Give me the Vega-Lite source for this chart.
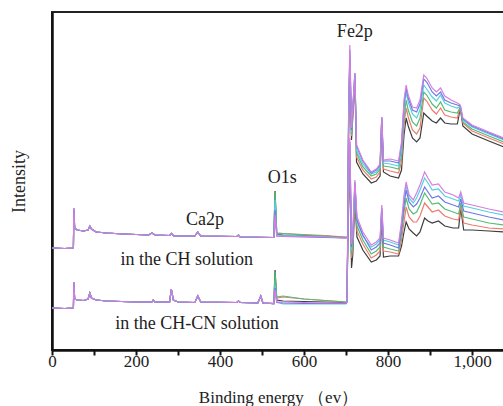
{
  "$schema": "https://vega.github.io/schema/vega-lite/v6.json",
  "width": 452,
  "height": 338,
  "autosize": "none",
  "padding": {"left": 52, "top": 12, "right": 0, "bottom": 56},
  "background": "white",
  "config": {"view": {"stroke": "#222", "strokeWidth": 2}, "font": "Liberation Serif, Times New Roman, serif"},
  "layer": [
    {
      "data": {"values": [
        {"g":"CH","x":0,"k":102,"r":102,"gr":102,"c":102,"b":102,"m":102},
        {"g":"CH","x":30,"k":101.5,"r":101.5,"gr":101.5,"c":101.5,"b":101.5,"m":101.5},
        {"g":"CH","x":50,"k":102,"r":102,"gr":102,"c":102,"b":102,"m":102},
        {"g":"CH","x":51,"k":103,"r":103,"gr":103,"c":103,"b":103,"m":103},
        {"g":"CH","x":52,"k":138,"r":140,"gr":140,"c":141,"b":142,"m":142},
        {"g":"CH","x":54,"k":122,"r":122,"gr":122,"c":122,"b":122,"m":122},
        {"g":"CH","x":60,"k":120,"r":120,"gr":120,"c":120,"b":120,"m":120},
        {"g":"CH","x":75,"k":119,"r":119,"gr":119,"c":119,"b":119,"m":119},
        {"g":"CH","x":86,"k":120,"r":120,"gr":120,"c":120,"b":120,"m":120},
        {"g":"CH","x":90,"k":124,"r":124,"gr":124,"c":124,"b":124,"m":124},
        {"g":"CH","x":94,"k":121,"r":121,"gr":121,"c":121,"b":121,"m":121},
        {"g":"CH","x":105,"k":118,"r":118,"gr":118,"c":118,"b":118,"m":118},
        {"g":"CH","x":130,"k":117,"r":117,"gr":117,"c":117,"b":117,"m":117},
        {"g":"CH","x":170,"k":116,"r":116,"gr":116,"c":116,"b":116,"m":116},
        {"g":"CH","x":230,"k":115,"r":115,"gr":115,"c":115,"b":115,"m":115},
        {"g":"CH","x":238,"k":117,"r":117,"gr":117,"c":117,"b":117,"m":117},
        {"g":"CH","x":245,"k":115,"r":115,"gr":115,"c":115,"b":115,"m":115},
        {"g":"CH","x":280,"k":114.5,"r":114.5,"gr":114.5,"c":114.5,"b":114.5,"m":114.5},
        {"g":"CH","x":284,"k":116.5,"r":116.5,"gr":116.5,"c":116.5,"b":116.5,"m":116.5},
        {"g":"CH","x":290,"k":114,"r":114,"gr":114,"c":114,"b":114,"m":114},
        {"g":"CH","x":340,"k":114,"r":114,"gr":114,"c":114,"b":114,"m":114},
        {"g":"CH","x":347,"k":118,"r":118,"gr":118,"c":118,"b":118,"m":118},
        {"g":"CH","x":354,"k":114,"r":114,"gr":114,"c":114,"b":114,"m":114},
        {"g":"CH","x":440,"k":113.5,"r":113.5,"gr":113.5,"c":113.5,"b":113.5,"m":113.5},
        {"g":"CH","x":444,"k":115,"r":115,"gr":115,"c":115,"b":115,"m":115},
        {"g":"CH","x":448,"k":113,"r":113,"gr":113,"c":113,"b":113,"m":113},
        {"g":"CH","x":528,"k":112.5,"r":112.5,"gr":112.5,"c":112.5,"b":112.5,"m":112.5},
        {"g":"CH","x":531,"k":159,"r":145,"gr":158,"c":150,"b":140,"m":135},
        {"g":"CH","x":535,"k":116,"r":117,"gr":117,"c":115,"b":114,"m":114},
        {"g":"CH","x":550,"k":115,"r":116.5,"gr":116.5,"c":115,"b":113.5,"m":114},
        {"g":"CH","x":600,"k":114.5,"r":115.5,"gr":115,"c":114,"b":113,"m":113.5},
        {"g":"CH","x":650,"k":114,"r":114.5,"gr":114,"c":113,"b":112.5,"m":113},
        {"g":"CH","x":700,"k":112.5,"r":113,"gr":112.5,"c":112,"b":112,"m":112},
        {"g":"CH","x":704,"k":113,"r":113,"gr":113,"c":113,"b":113,"m":113},
        {"g":"CH","x":706,"k":215,"r":222,"gr":225,"c":228,"b":230,"m":232},
        {"g":"CH","x":709,"k":285,"r":290,"gr":292,"c":295,"b":300,"m":305},
        {"g":"CH","x":713,"k":210,"r":214,"gr":216,"c":218,"b":220,"m":222},
        {"g":"CH","x":721,"k":270,"r":273,"gr":275,"c":276,"b":277,"m":277},
        {"g":"CH","x":725,"k":188,"r":193,"gr":197,"c":200,"b":204,"m":205},
        {"g":"CH","x":740,"k":176,"r":180,"gr":183,"c":186,"b":189,"m":190},
        {"g":"CH","x":760,"k":167,"r":171,"gr":174,"c":176,"b":177,"m":178},
        {"g":"CH","x":772,"k":169,"r":173,"gr":176,"c":178,"b":180,"m":181},
        {"g":"CH","x":781,"k":174,"r":178,"gr":181,"c":183,"b":185,"m":186},
        {"g":"CH","x":785,"k":228,"r":230,"gr":231,"c":232,"b":233,"m":233},
        {"g":"CH","x":789,"k":178,"r":181,"gr":184,"c":187,"b":189,"m":190},
        {"g":"CH","x":805,"k":174,"r":179,"gr":183,"c":186,"b":189,"m":191},
        {"g":"CH","x":825,"k":172,"r":177,"gr":181,"c":184,"b":187,"m":189},
        {"g":"CH","x":832,"k":180,"r":188,"gr":195,"c":200,"b":205,"m":208},
        {"g":"CH","x":838,"k":215,"r":225,"gr":232,"c":240,"b":246,"m":250},
        {"g":"CH","x":843,"k":232,"r":242,"gr":250,"c":258,"b":262,"m":265},
        {"g":"CH","x":848,"k":224,"r":233,"gr":240,"c":248,"b":252,"m":255},
        {"g":"CH","x":858,"k":212,"r":220,"gr":228,"c":236,"b":240,"m":243},
        {"g":"CH","x":868,"k":208,"r":216,"gr":224,"c":232,"b":238,"m":242},
        {"g":"CH","x":876,"k":212,"r":222,"gr":232,"c":240,"b":246,"m":250},
        {"g":"CH","x":885,"k":237,"r":252,"gr":258,"c":265,"b":271,"m":275},
        {"g":"CH","x":892,"k":234,"r":249,"gr":255,"c":261,"b":268,"m":272},
        {"g":"CH","x":905,"k":229,"r":240,"gr":246,"c":253,"b":258,"m":262},
        {"g":"CH","x":915,"k":227,"r":236,"gr":242,"c":249,"b":254,"m":258},
        {"g":"CH","x":925,"k":232,"r":242,"gr":248,"c":255,"b":258,"m":262},
        {"g":"CH","x":935,"k":227,"r":235,"gr":240,"c":247,"b":250,"m":254},
        {"g":"CH","x":950,"k":226,"r":233,"gr":238,"c":244,"b":247,"m":250},
        {"g":"CH","x":965,"k":226,"r":232,"gr":237,"c":242,"b":245,"m":247},
        {"g":"CH","x":972,"k":242,"r":243,"gr":243,"c":244,"b":244,"m":245},
        {"g":"CH","x":978,"k":224,"r":227,"gr":228,"c":230,"b":231,"m":232},
        {"g":"CH","x":1000,"k":216,"r":219,"gr":221,"c":223,"b":224,"m":225},
        {"g":"CH","x":1040,"k":209,"r":212,"gr":214,"c":216,"b":217,"m":218},
        {"g":"CH","x":1076,"k":203,"r":206,"gr":208,"c":210,"b":211,"m":212},

        {"g":"CN","x":0,"k":42,"r":42,"gr":42,"c":42,"b":42,"m":42},
        {"g":"CN","x":30,"k":41.5,"r":41.5,"gr":41.5,"c":41.5,"b":41.5,"m":41.5},
        {"g":"CN","x":50,"k":42,"r":42,"gr":42,"c":42,"b":42,"m":42},
        {"g":"CN","x":51,"k":43,"r":43,"gr":43,"c":43,"b":43,"m":43},
        {"g":"CN","x":52,"k":66,"r":67,"gr":67,"c":68,"b":68,"m":68},
        {"g":"CN","x":54,"k":51,"r":51,"gr":51,"c":51,"b":51,"m":51},
        {"g":"CN","x":60,"k":50,"r":50,"gr":50,"c":50,"b":50,"m":50},
        {"g":"CN","x":75,"k":49.5,"r":49.5,"gr":49.5,"c":49.5,"b":49.5,"m":49.5},
        {"g":"CN","x":86,"k":51,"r":51,"gr":51,"c":51,"b":51,"m":51},
        {"g":"CN","x":90,"k":57,"r":57,"gr":57,"c":57,"b":57,"m":57},
        {"g":"CN","x":94,"k":52,"r":52,"gr":52,"c":52,"b":52,"m":52},
        {"g":"CN","x":105,"k":50,"r":50,"gr":50,"c":50,"b":50,"m":50},
        {"g":"CN","x":130,"k":49,"r":49,"gr":49,"c":49,"b":49,"m":49},
        {"g":"CN","x":200,"k":48,"r":48,"gr":48,"c":48,"b":48,"m":48},
        {"g":"CN","x":238,"k":48,"r":48,"gr":48,"c":48,"b":48,"m":48},
        {"g":"CN","x":241,"k":50,"r":50,"gr":50,"c":50,"b":50,"m":50},
        {"g":"CN","x":245,"k":48,"r":48,"gr":48,"c":48,"b":48,"m":48},
        {"g":"CN","x":280,"k":48,"r":48,"gr":48,"c":48,"b":48,"m":48},
        {"g":"CN","x":284,"k":61,"r":61,"gr":61,"c":61,"b":61,"m":61},
        {"g":"CN","x":289,"k":50,"r":50,"gr":50,"c":50,"b":50,"m":50},
        {"g":"CN","x":300,"k":48,"r":48,"gr":48,"c":48,"b":48,"m":48},
        {"g":"CN","x":340,"k":47.5,"r":47.5,"gr":47.5,"c":47.5,"b":47.5,"m":47.5},
        {"g":"CN","x":347,"k":54,"r":54,"gr":54,"c":54,"b":54,"m":54},
        {"g":"CN","x":354,"k":48,"r":48,"gr":48,"c":48,"b":48,"m":48},
        {"g":"CN","x":440,"k":47.5,"r":47.5,"gr":47.5,"c":47.5,"b":47.5,"m":47.5},
        {"g":"CN","x":444,"k":49,"r":49,"gr":49,"c":49,"b":49,"m":49},
        {"g":"CN","x":448,"k":47.5,"r":47.5,"gr":47.5,"c":47.5,"b":47.5,"m":47.5},
        {"g":"CN","x":490,"k":47,"r":47,"gr":47,"c":47,"b":47,"m":47},
        {"g":"CN","x":497,"k":54,"r":54,"gr":54,"c":54,"b":54,"m":54},
        {"g":"CN","x":502,"k":47,"r":47,"gr":47,"c":47,"b":47,"m":47},
        {"g":"CN","x":528,"k":46.5,"r":46.5,"gr":46.5,"c":46.5,"b":46.5,"m":46.5},
        {"g":"CN","x":531,"k":80,"r":70,"gr":78,"c":65,"b":62,"m":60},
        {"g":"CN","x":535,"k":50,"r":52,"gr":53,"c":48,"b":47.5,"m":48},
        {"g":"CN","x":550,"k":49,"r":53,"gr":54,"c":46,"b":47,"m":48},
        {"g":"CN","x":600,"k":48.5,"r":51,"gr":51,"c":46,"b":46.5,"m":47.5},
        {"g":"CN","x":650,"k":48,"r":49.5,"gr":49.5,"c":46,"b":46.5,"m":47},
        {"g":"CN","x":700,"k":47.5,"r":48,"gr":48,"c":46,"b":46.5,"m":47},
        {"g":"CN","x":702,"k":48,"r":48,"gr":48,"c":48,"b":48,"m":48},
        {"g":"CN","x":704,"k":100,"r":104,"gr":106,"c":108,"b":110,"m":112},
        {"g":"CN","x":707,"k":160,"r":170,"gr":175,"c":180,"b":185,"m":190},
        {"g":"CN","x":709,"k":190,"r":195,"gr":200,"c":205,"b":208,"m":212},
        {"g":"CN","x":713,"k":82,"r":92,"gr":96,"c":100,"b":103,"m":106},
        {"g":"CN","x":716,"k":95,"r":102,"gr":106,"c":110,"b":113,"m":116},
        {"g":"CN","x":721,"k":150,"r":158,"gr":163,"c":166,"b":168,"m":170},
        {"g":"CN","x":726,"k":113,"r":119,"gr":124,"c":128,"b":130,"m":133},
        {"g":"CN","x":740,"k":100,"r":106,"gr":110,"c":114,"b":115,"m":118},
        {"g":"CN","x":760,"k":88,"r":92,"gr":96,"c":103,"b":100,"m":105},
        {"g":"CN","x":772,"k":90,"r":95,"gr":99,"c":106,"b":103,"m":108},
        {"g":"CN","x":781,"k":94,"r":99,"gr":103,"c":110,"b":107,"m":112},
        {"g":"CN","x":785,"k":132,"r":138,"gr":140,"c":142,"b":142,"m":145},
        {"g":"CN","x":789,"k":93,"r":99,"gr":103,"c":110,"b":107,"m":112},
        {"g":"CN","x":805,"k":94,"r":98,"gr":101,"c":108,"b":105,"m":110},
        {"g":"CN","x":825,"k":94,"r":96,"gr":99,"c":105,"b":102,"m":107},
        {"g":"CN","x":832,"k":104,"r":110,"gr":116,"c":125,"b":122,"m":128},
        {"g":"CN","x":838,"k":118,"r":128,"gr":138,"c":150,"b":145,"m":155},
        {"g":"CN","x":843,"k":128,"r":143,"gr":152,"c":165,"b":160,"m":168},
        {"g":"CN","x":850,"k":121,"r":133,"gr":141,"c":152,"b":148,"m":155},
        {"g":"CN","x":860,"k":117,"r":128,"gr":136,"c":147,"b":143,"m":150},
        {"g":"CN","x":868,"k":114,"r":128,"gr":138,"c":152,"b":146,"m":157},
        {"g":"CN","x":876,"k":118,"r":134,"gr":145,"c":160,"b":152,"m":165},
        {"g":"CN","x":887,"k":132,"r":147,"gr":157,"c":172,"b":163,"m":178},
        {"g":"CN","x":895,"k":129,"r":143,"gr":152,"c":167,"b":158,"m":172},
        {"g":"CN","x":905,"k":127,"r":138,"gr":146,"c":160,"b":152,"m":165},
        {"g":"CN","x":920,"k":129,"r":140,"gr":147,"c":161,"b":154,"m":166},
        {"g":"CN","x":935,"k":124,"r":134,"gr":141,"c":154,"b":148,"m":158},
        {"g":"CN","x":955,"k":122,"r":131,"gr":138,"c":151,"b":145,"m":155},
        {"g":"CN","x":968,"k":122,"r":130,"gr":136,"c":149,"b":143,"m":152},
        {"g":"CN","x":973,"k":142,"r":144,"gr":147,"c":155,"b":151,"m":158},
        {"g":"CN","x":980,"k":120,"r":127,"gr":133,"c":144,"b":139,"m":147},
        {"g":"CN","x":1000,"k":120,"r":125,"gr":131,"c":142,"b":137,"m":145},
        {"g":"CN","x":1040,"k":119,"r":122,"gr":127,"c":138,"b":133,"m":141},
        {"g":"CN","x":1076,"k":118,"r":121,"gr":125,"c":135,"b":130,"m":138}
      ]},
      "transform": [{"fold": ["k", "r", "gr", "c", "b", "m"], "as": ["series", "intensity"]}],
      "mark": {"type": "line", "strokeWidth": 1.2, "clip": true},
      "encoding": {
        "x": {
          "field": "x", "type": "quantitative",
          "scale": {"domain": [0, 1076], "nice": false, "zero": false},
          "axis": {
            "title": "Binding energy （ev）",
            "values": [0, 100, 200, 300, 400, 500, 600, 700, 800, 900, 1000],
            "labelExpr": "datum.value % 200 == 0 ? format(datum.value, ',') : ''",
            "grid": false,
            "zindex": 2,
            "domainColor": "#111", "domainWidth": 2.5,
            "ticks": true,
            "tickColor": "#111", "tickWidth": 2, "tickSize": 5,
            "labelPadding": -2, "labelFont": "Liberation Serif", "labelFontSize": 17, "labelColor": "#222",
            "labelFlush": false, "labelOverlap": false,
            "titleFont": "Liberation Serif", "titleFontSize": 17, "titleFontWeight": "normal", "titleColor": "#222",
            "titlePadding": 20,
            "encode": {"ticks": {"update": {"y": {"value": 0}, "y2": {"signal": "datum.value % 200 == 0 ? -6 : -4"}}}}
          }
        },
        "y": {
          "field": "intensity", "type": "quantitative",
          "scale": {"domain": [0, 338], "nice": false, "zero": false},
          "axis": {
            "title": "Intensity", "ticks": false, "labels": false, "grid": false,
            "domainColor": "#111", "domainWidth": 2.5,
            "titleFont": "Liberation Serif", "titleFontSize": 18, "titleFontWeight": "normal", "titleColor": "#222",
            "titlePadding": 24
          }
        },
        "color": {
          "field": "series", "type": "nominal",
          "scale": {"domain": ["k", "r", "gr", "c", "b", "m"], "range": ["#3d3d3d", "#ee7b6e", "#55bb77", "#55d0e0", "#6f78e6", "#d47fe0"]},
          "legend": null
        },
        "detail": {"field": "g", "type": "nominal"}
      }
    },
    {
      "data": {"values": [
        {"label": "Fe2p", "x": 721, "y": 318},
        {"label": "O1s", "x": 548, "y": 172},
        {"label": "Ca2p", "x": 364, "y": 130},
        {"label": "in the CH solution", "x": 321, "y": 90},
        {"label": "in the CH-CN solution", "x": 345, "y": 26}
      ]},
      "mark": {"type": "text", "font": "Liberation Serif", "fontSize": 18, "color": "#222"},
      "encoding": {
        "x": {"field": "x", "type": "quantitative"},
        "y": {"field": "y", "type": "quantitative"},
        "text": {"field": "label"}
      }
    }
  ]
}
